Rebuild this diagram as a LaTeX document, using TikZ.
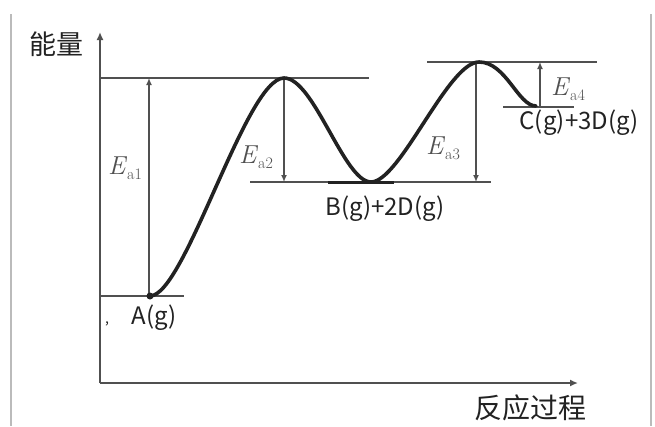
\documentclass[tikz,border=0pt]{standalone}
\usepackage{fontspec}
\newfontfamily\cjk{Noto Sans CJK SC}
\usetikzlibrary{arrows.meta}
\definecolor{ink}{HTML}{222222}
\definecolor{thin}{HTML}{505050}
\definecolor{frame}{HTML}{BBBBBB}
\newcommand{\eact}[1]{\textit{E}\raisebox{-5pt}{\fontsize{16}{16}\selectfont a#1}}
\begin{document}
\begin{tikzpicture}[x=1pt,y=-1pt,
  lvl/.style={draw=thin,line width=1.6pt},
  gap/.style={draw=thin,line width=1.6pt,-{Latex[length=7pt,width=6pt]}},
  crv/.style={draw=ink,line width=3.6pt,line cap=round},
  lab/.style={text=ink,font=\cjk\fontsize{24}{24}\selectfont,inner sep=0pt},
  elab/.style={text=thin,font=\rmfamily\fontsize{26}{26}\selectfont,inner sep=0pt},
  axis/.style={draw=thin,line width=1.9pt,-{Latex[length=8pt,width=7pt]}}]
\useasboundingbox (0,0) rectangle (655,426);
\fill[white] (0,0) rectangle (655,426);
% frame lines of the screenshot
\draw[frame,line width=1.2pt] (11,14) -- (11,426);
\draw[frame,line width=1.2pt] (651,14) -- (651,426);
% axes
\coordinate (O) at (100,383);
\coordinate (Ytop) at (100,32);
\coordinate (Xend) at (578,383);
\draw[axis] (O) -- (Ytop);
\draw[axis] (O) -- (Xend);
\node[lab,font=\cjk\fontsize{27}{27}\selectfont] (ylab) at (56,44) {能量};
\node[lab,font=\cjk\fontsize{28}{28}\selectfont] (xlab) at (530,408) {反应过程};
% key points
\coordinate (A) at (150,296);
\coordinate (P1) at (284,78);
\coordinate (B) at (371,182);
\coordinate (P2) at (479,62);
\coordinate (C) at (536,106);
% levels
\coordinate (L1a) at (101,78);  \coordinate (L1b) at (369,78);
\coordinate (LAa) at (101,296); \coordinate (LAb) at (184,296);
\coordinate (LBa) at (250,182); \coordinate (LBb) at (491,182);
\coordinate (L2a) at (427,62);  \coordinate (L2b) at (597,62);
\coordinate (LCa) at (503,107); \coordinate (LCb) at (574,107);
\draw[lvl] (L1a) -- (L1b);
\draw[lvl] (LAa) -- (LAb);
\draw[lvl] (LBa) -- (LBb);
\draw[lvl] (L2a) -- (L2b);
\draw[lvl] (LCa) -- (LCb);
% energy gaps
\coordinate (e1b) at (149,296); \coordinate (e1t) at (149,78);
\coordinate (e2t) at (284,78);  \coordinate (e2b) at (284,182);
\coordinate (e3t) at (476,62);  \coordinate (e3b) at (476,182);
\coordinate (e4b) at (540,106); \coordinate (e4t) at (540,62);
\draw[gap] (e1b) -- (e1t);
\draw[gap] (e2t) -- (e2b);
\draw[gap] (e3t) -- (e3b);
\draw[gap] (e4b) -- (e4t);
% thick flat part at B
\coordinate (Bl) at (328,182); \coordinate (Br) at (394,182);
\draw[draw=ink,line width=3pt] (Bl) -- (Br);
% reaction curve
\draw[crv] (A) .. controls (185,296) and (246,78) .. (P1)
  .. controls (314,78) and (344,182) .. (B)
  .. controls (400,182) and (448,62) .. (P2)
  .. controls (506,62) and (518,106) .. (C);
\fill[ink] (A) circle (3.5pt);
% labels
\node[elab] (ea1) at (125,168) {\eact{1}};
\node[elab] (ea2) at (256,157) {\eact{2}};
\node[elab] (ea3) at (443,148) {\eact{3}};
\node[elab] (ea4) at (568,89) {\eact{4}};
\node[lab] (la) at (154,318) {A(g)};
\node[lab] (lb) at (385,209) {B(g)+2D(g)};
\node[lab] (lc) at (579,123) {C(g)+3D(g)};
\node[lab,font=\cjk\fontsize{14}{14}\selectfont] (comma) at (107,324) {,};
\end{tikzpicture}
\end{document}
